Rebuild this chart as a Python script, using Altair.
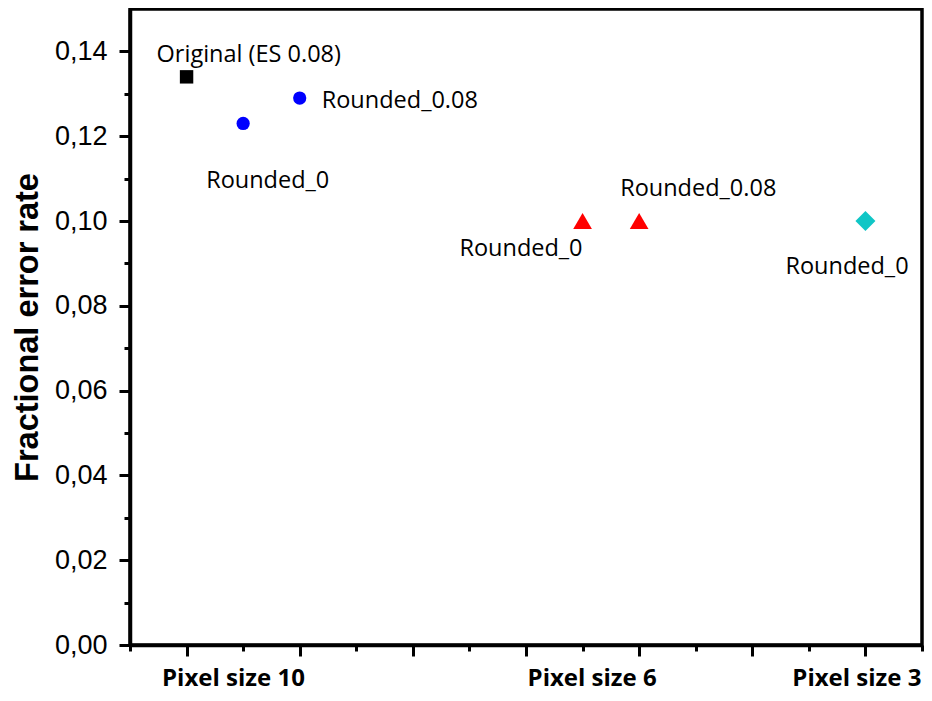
import altair as alt
import pandas as pd

# ---- data ----
x_pos = [1, 1.5, 2, 4.5, 5, 7]
err_rate = [0.134, 0.123, 0.129, 0.100, 0.100, 0.100]
series = ["Original", "Pixel size 10", "Pixel size 10", "Pixel size 6", "Pixel size 6", "Pixel size 3"]
point_labels = ["Original (ES 0.08)", "Rounded_0", "Rounded_0.08", "Rounded_0", "Rounded_0.08", "Rounded_0"]
group_names = ["Pixel size 10", "Pixel size 6", "Pixel size 3"]
group_label_pos = [1.41, 4.58, 6.92]
x_ticks = [0.5, 1, 1.5, 2, 2.5, 3, 3.5, 4, 4.5, 5, 5.5, 6, 6.5, 7, 7.5]
y_ticks = [0.0, 0.01, 0.02, 0.03, 0.04, 0.05, 0.06, 0.07, 0.08, 0.09, 0.10, 0.11, 0.12, 0.13, 0.14]

df = pd.DataFrame({
    "i": list(range(len(x_pos))),
    "x": x_pos,
    "y": err_rate,
    "series": series,
    "label": point_labels,
})

xscale = alt.Scale(domain=[0.5, 7.5], nice=False, zero=False)
yscale = alt.Scale(domain=[0, 0.15], nice=False)

tick_axis = alt.Axis(
    values=x_ticks, labels=False, title=None, orient="bottom", grid=False,
    domainColor="black", domainWidth=3.5, tickColor="black", tickWidth=3,
    tickSize={"condition": {"test": "datum.value % 1 == 0", "value": 11}, "value": 6},
)

label_expr = "[" + ",".join("'%s'" % s for s in group_names) + "][indexof([" + \
    ",".join(str(v) for v in group_label_pos) + "], datum.value)]"
label_axis = alt.Axis(
    values=group_label_pos, labelExpr=label_expr, ticks=False, domain=False,
    title=None, orient="bottom", grid=False, labelFont="Open Sans",
    labelFontWeight="bold", labelFontSize=24, labelColor="black",
    labelPadding=21, labelFlush=False, labelOverlap=False, labelBound=False,
)

major_test = "round(datum.value*100) % 2 == 0"
y_axis = alt.Axis(
    values=y_ticks, orient="left",
    labelExpr=major_test + " ? replace(format(datum.value, '.2f'), '.', ',') : ''",
    tickSize={"condition": {"test": major_test, "value": 11}, "value": 6},
    title="Fractional error rate", titleFont="Liberation Sans", titleFontWeight="bold",
    titleFontSize=32.5, titleColor="black", titlePadding=10,
    labelFont="Liberation Sans", labelFontSize=27, labelColor="black", labelPadding=12,
    labelFlush=False, labelOverlap=False, grid=False,
    domainColor="black", domainWidth=3.5, tickColor="black", tickWidth=3,
)

base = alt.Chart(df)

axis_layer = base.mark_point(opacity=0).encode(
    x=alt.X("x:Q", scale=xscale, axis=tick_axis),
    y=alt.Y("y:Q", scale=yscale, axis=y_axis),
)

label_layer = base.mark_point(opacity=0).encode(
    x=alt.X("x:Q", scale=xscale, axis=label_axis),
    y=alt.Y("y:Q", scale=yscale, axis=None),
)

styles = [
    ("Original", "square", "#000000", 180),
    ("Pixel size 10", "circle", "#0000FF", 175),
    ("Pixel size 6", "triangle-up", "#FF0000", 350),
    ("Pixel size 3", "diamond", "#10C6C6", 400),
]
point_layers = []
for name, shp, col, sz in styles:
    point_layers.append(
        base.transform_filter(alt.datum.series == name).mark_point(
            filled=True, opacity=1, strokeWidth=0, shape=shp, color=col, size=sz,
        ).encode(
            x=alt.X("x:Q", scale=xscale, axis=None),
            y=alt.Y("y:Q", scale=yscale, axis=None),
        )
    )

offsets = [("left", -30, -15), ("left", -37, 65), ("left", 22, 10),
           ("right", 0, 35), ("left", -19, -25), ("left", -80, 53)]
texts = []
for k, (al, ddx, ddy) in enumerate(offsets):
    texts.append(
        base.transform_filter(alt.datum.i == k).mark_text(
            align=al, baseline="alphabetic", dx=ddx, dy=ddy,
            font="Open Sans", fontSize=23.5, color="black",
        ).encode(
            x=alt.X("x:Q", scale=xscale, axis=None),
            y=alt.Y("y:Q", scale=yscale, axis=None),
            text="label:N",
        )
    )

chart = alt.layer(axis_layer, label_layer, *point_layers, *texts).resolve_axis(
    x="independent", y="independent"
).properties(
    width=792, height=636,
    padding={"left": 122, "top": 1, "right": 2, "bottom": 48},
    autosize=alt.AutoSizeParams(type="none"),
).configure_view(stroke="black", strokeWidth=3.5)

chart.save("out.html", embed_options={"renderer": "svg", "actions": False})
